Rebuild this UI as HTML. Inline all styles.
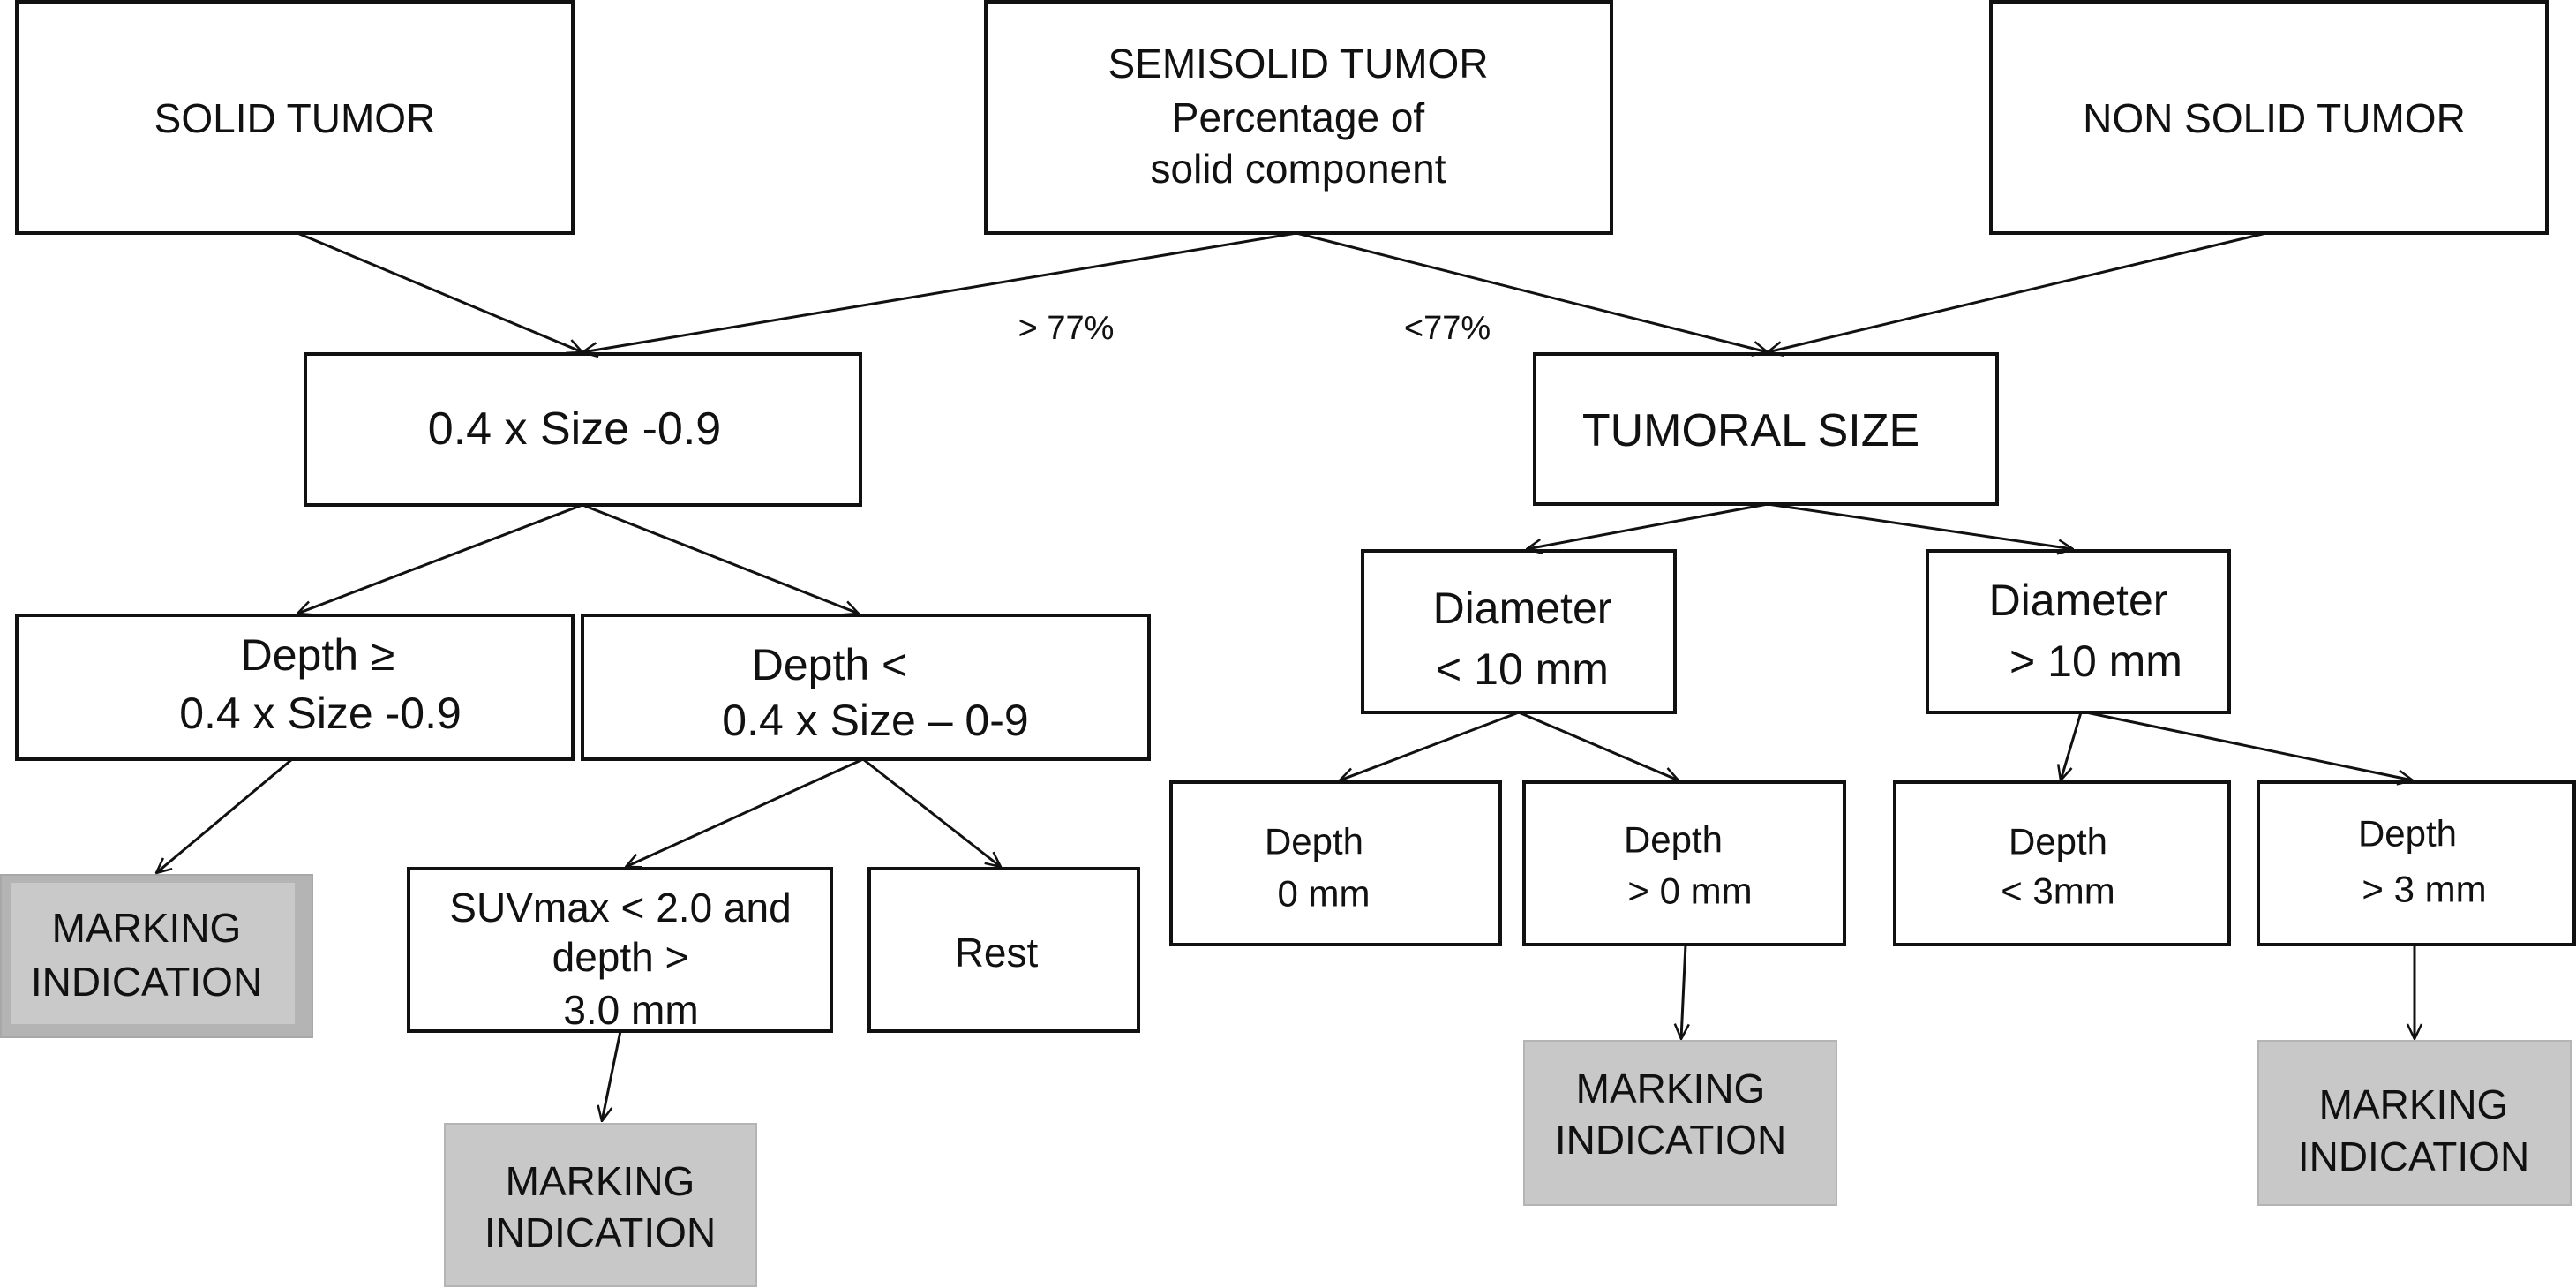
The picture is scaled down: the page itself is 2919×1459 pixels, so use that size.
<!DOCTYPE html>
<html><head><meta charset="utf-8"><style>
html,body{margin:0;padding:0;background:#fff;}
svg{display:block;}
text{font-family:"Liberation Sans",Arial,sans-serif;fill:#111;text-anchor:middle;dominant-baseline:central;}
</style></head><body>
<svg width="2919" height="1459" viewBox="0 0 2919 1459" xmlns="http://www.w3.org/2000/svg">
<defs>
<marker id="a" viewBox="0 0 20 20" refX="19" refY="10" markerWidth="20" markerHeight="20" markerUnits="userSpaceOnUse" orient="auto">
<path d="M2,2 L19,10 L2,18" fill="none" stroke="#111" stroke-width="2.5"/>
</marker>
</defs>
<g fill="#fff" stroke="#111" stroke-width="4">
<rect x="19" y="2" width="630" height="262"/>
<rect x="1117" y="2" width="709" height="262"/>
<rect x="2256" y="2" width="630" height="262"/>
<rect x="346" y="401" width="629" height="171"/>
<rect x="1739" y="401" width="524" height="170"/>
<rect x="19" y="697" width="630" height="163"/>
<rect x="660" y="697" width="642" height="163"/>
<rect x="1544" y="624" width="354" height="183"/>
<rect x="2184" y="624" width="342" height="183"/>
<rect x="463" y="984" width="479" height="184"/>
<rect x="985" y="984" width="305" height="184"/>
<rect x="1327" y="886" width="373" height="184"/>
<rect x="1727" y="886" width="363" height="184"/>
<rect x="2147" y="886" width="379" height="184"/>
<rect x="2559" y="886" width="358" height="184"/>
</g>
<rect x="1" y="991" width="353" height="184" fill="#b4b4b4" stroke="#a8a8a8" stroke-width="2"/>
<rect x="12" y="1000" width="322" height="160" fill="#c9c9c9"/>
<rect x="504" y="1273" width="353" height="184" fill="#c8c8c8" stroke="#b4b4b4" stroke-width="2"/>
<rect x="1727" y="1179" width="354" height="186" fill="#c8c8c8" stroke="#b4b4b4" stroke-width="2"/>
<rect x="2559" y="1179" width="354" height="186" fill="#c8c8c8" stroke="#b4b4b4" stroke-width="2"/>
<g stroke="#111" stroke-width="3" fill="none" marker-end="url(#a)">
<line x1="337" y1="264" x2="660" y2="399"/>
<line x1="1469" y1="264" x2="660" y2="399"/>
<line x1="1469" y1="264" x2="2003" y2="399"/>
<line x1="2568" y1="264" x2="2003" y2="399"/>
<line x1="660" y1="572" x2="337" y2="695"/>
<line x1="660" y1="572" x2="973" y2="695"/>
<line x1="2003" y1="571" x2="1730" y2="622"/>
<line x1="2003" y1="571" x2="2349" y2="622"/>
<line x1="331" y1="860" x2="177" y2="989"/>
<line x1="978" y1="860" x2="709" y2="982"/>
<line x1="978" y1="860" x2="1134" y2="982"/>
<line x1="703" y1="1168" x2="682" y2="1270"/>
<line x1="1721" y1="807" x2="1518" y2="884"/>
<line x1="1721" y1="807" x2="1902" y2="884"/>
<line x1="2358" y1="807" x2="2335" y2="884"/>
<line x1="2364" y1="807" x2="2734" y2="884"/>
<line x1="1910" y1="1070" x2="1905" y2="1177"/>
<line x1="2736" y1="1070" x2="2736" y2="1177"/>
</g>
<g font-size="46">
<text x="334" y="134">SOLID TUMOR</text>
<text x="1471" y="72">SEMISOLID TUMOR</text>
<text x="1471" y="133">Percentage of</text>
<text x="1471" y="191">solid component</text>
<text x="2577" y="134">NON SOLID TUMOR</text>
<text x="1208" y="372" font-size="38">&gt; 77%</text>
<text x="1640" y="372" font-size="38">&lt;77%</text>
<text x="651" y="486" font-size="52">0.4 x Size -0.9</text>
<text x="1984" y="488" font-size="52">TUMORAL SIZE</text>
<text x="360" y="742" font-size="50">Depth ≥</text>
<text x="363" y="808" font-size="50">0.4 x Size -0.9</text>
<text x="940" y="753" font-size="50">Depth &lt;</text>
<text x="992" y="816" font-size="50">0.4 x Size – 0-9</text>
<text x="1725" y="689" font-size="50">Diameter</text>
<text x="1725" y="758" font-size="50">&lt; 10 mm</text>
<text x="2355" y="680" font-size="50">Diameter</text>
<text x="2375" y="749" font-size="50">&gt; 10 mm</text>
<text x="166" y="1051">MARKING</text>
<text x="166" y="1112">INDICATION</text>
<text x="703" y="1028">SUVmax &lt; 2.0 and</text>
<text x="703" y="1084">depth &gt;</text>
<text x="715" y="1144">3.0 mm</text>
<text x="1129" y="1079">Rest</text>
<text x="680" y="1338">MARKING</text>
<text x="680" y="1396">INDICATION</text>
<text x="1489" y="953" font-size="42">Depth</text>
<text x="1500" y="1012" font-size="42">0 mm</text>
<text x="1896" y="951" font-size="42">Depth</text>
<text x="1915" y="1009" font-size="42">&gt; 0 mm</text>
<text x="2332" y="953" font-size="42">Depth</text>
<text x="2332" y="1009" font-size="42">&lt; 3mm</text>
<text x="2728" y="944" font-size="42">Depth</text>
<text x="2747" y="1007" font-size="42">&gt; 3 mm</text>
<text x="1893" y="1233">MARKING</text>
<text x="1893" y="1291">INDICATION</text>
<text x="2735" y="1251">MARKING</text>
<text x="2735" y="1310">INDICATION</text>
</g>
</svg>
</body></html>
